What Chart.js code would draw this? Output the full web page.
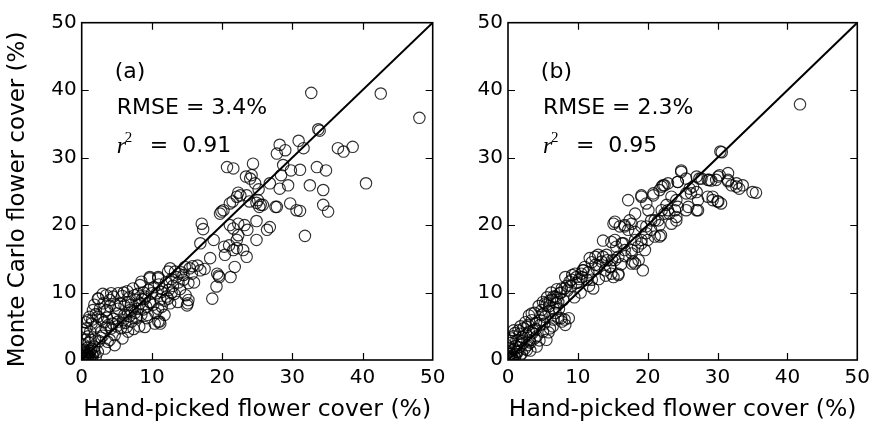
<!DOCTYPE html>
<html>
<head>
<meta charset="utf-8">
<script src="https://cdn.jsdelivr.net/npm/chart.js@4.4.1/dist/chart.umd.min.js"></script>
<style>
  html, body { margin: 0; padding: 0; background: #fff; }
  #wrap { position: relative; width: 876px; height: 427px; overflow: hidden; }
  canvas { position: absolute; top: 0; }
  #cA { left: 0; }
  #cB { left: 440px; }
</style>
</head>
<body>
<div id="wrap">
  <canvas id="cA" width="452" height="427"></canvas>
  <canvas id="cB" width="436" height="427"></canvas>
</div>
<script>
// Hand-picked cover (x) vs Monte Carlo estimate (y), in percent.
const panelA = [
  [32.7,39.6],[42.6,39.5],[48.1,35.9],[33.7,34.2],[33.9,34.0],[36.5,31.4],[37.3,30.9],[38.6,31.6],
  [40.5,26.2],[30.9,32.5],[31.6,31.4],[28.2,31.9],[27.8,30.6],[29.0,31.1],[29.8,28.1],[31.1,28.2],
  [28.7,28.9],[33.5,28.6],[34.8,28.1],[32.5,25.9],[34.4,25.2],[34.4,23.0],[35.1,22.0],[29.7,23.2],
  [31.1,22.1],[31.8,18.4],[28.2,25.4],[28.4,27.4],[29.4,25.9],[26.8,26.2],[27.8,22.7],[20.7,28.6],
  [21.6,28.4],[24.4,29.1],[23.4,27.2],[24.0,26.9],[24.2,27.4],[25.2,25.3],[22.3,24.8],[21.1,23.2],
  [21.5,23.5],[19.9,22.0],[20.2,22.2],[19.7,21.7],[24.9,23.3],[25.5,23.0],[23.9,23.5],[22.1,24.2],
  [22.6,24.4],[23.5,24.4],[25.1,23.7],[25.8,23.0],[25.3,22.7],[27.6,22.7],[30.6,22.2],[24.7,26.2],
  [17.1,20.2],[17.3,19.4],[18.8,17.8],[16.9,17.3],[21.1,20.0],[22.3,20.2],[21.6,19.5],[22.3,18.5],
  [22.1,17.8],[21.0,17.0],[22.1,16.6],[23.6,19.3],[24.9,20.6],[24.9,17.8],[26.4,19.3],[26.8,19.7],
  [23.2,20.0],[20.3,16.8],[20.4,15.6],[21.6,16.3],[23.0,16.3],[23.5,15.3],[18.3,15.1],[21.8,13.8],
  [21.2,12.3],[19.5,12.5],[19.6,12.3],[19.3,12.8],[19.2,10.9],[18.6,9.1],
  [12.6,13.6],[13.5,12.3],[14.5,11.9],[14.7,13.8],[15.2,11.4],[15.4,13.6],[15.7,12.8],[16.9,13.3],
  [15.2,8.9],[15.0,8.1],[9.7,12.3],[10.9,12.1],[8.3,11.1],[9.5,10.4],[10.7,9.9],[12.1,9.4],
  [12.6,8.4],[11.4,7.9],[11.2,5.4],[10.9,5.7],[9.0,4.9],[7.8,6.4],[6.9,7.4],[5.5,8.4],
  [4.0,8.9],[2.4,9.1],[3.1,8.4],[3.6,7.4],[5.0,6.9],[5.9,5.9],[6.4,4.9],[7.8,8.9],
  [9.0,9.4],[10.0,9.9],[8.3,8.4],[13.0,11.0],[14.0,10.5],[13.8,12.8],[12.0,11.5],[11.5,10.5],
  [13.2,9.8],[14.2,13.0],[16.0,11.5],[15.8,13.9],[12.8,12.0],[11.0,11.2],[10.3,10.8],[9.8,8.5],
  [8.8,7.5],[9.3,6.2],[10.5,7.0],[11.8,8.8],[12.4,10.4],[14.8,9.6],[16.5,14.0],[17.5,13.5],
  [13.3,13.1],
  [2.3,9.1],[3.5,9.6],[4.5,9.4],[4.2,9.9],[2.6,7.6],[1.6,7.4],[0.9,5.9],[0.7,4.7],
  [0.9,3.5],[0.4,2.2],[1.4,5.4],[2.3,6.4],[3.3,7.2],[5.2,7.6],[6.1,8.1],[6.6,8.6],
  [5.2,5.7],[4.2,4.7],[3.7,2.7],[4.7,3.7],[5.6,4.7],[7.1,5.7],[7.8,6.2],[8.5,6.7],
  [8.0,7.6],[9.0,9.1],[9.7,8.6],[8.5,11.6],[9.7,12.1],[10.9,12.3],[12.3,13.1],[11.4,10.1],
  [12.3,9.1],[13.7,8.6],[15.1,8.4],[10.9,7.6],[10.4,5.4],[11.1,5.7],[11.8,6.7],[9.4,6.7],
  [7.1,7.2],[6.1,6.7],[2.8,4.2],[1.9,3.2],[3.3,1.7],[2.3,1.2],[1.4,1.7],[0.9,0.7],
  [0.4,1.0],[4.7,2.2],[6.6,4.2],
  [1.0,2.6],[1.8,2.0],[2.5,2.8],[3.0,3.6],[3.8,5.2],[4.5,6.1],[2.0,5.0],[1.2,4.2],
  [0.5,3.0],[0.3,1.5],[1.5,0.8],[2.0,0.5],[0.8,1.8],[5.8,3.2],[6.2,5.5],[7.4,4.6],
  [8.2,5.0],[5.0,5.0],[3.2,5.6],[4.0,3.0],[0.6,5.6],[1.1,6.4],[1.8,8.2],[0.3,4.0],
  [2.8,6.0],[3.6,6.3],[4.8,8.1],[6.8,9.3],[7.5,9.6],[8.8,10.0],[6.0,10.0],[5.2,9.9],
  [7.0,8.2],[8.6,9.0],
  [3.0,9.8],[5.8,9.5],[6.5,10.2],[7.3,10.6],[8.0,9.8],[4.0,8.0],[2.0,6.8],[1.5,6.0],
  [3.4,4.8],[4.4,5.4],[6.8,6.5],[7.6,7.0],[9.2,7.9],[10.2,8.2],[11.2,9.0],[12.8,10.0],
  [13.8,11.5],[14.5,12.6],[2.7,3.3],[1.3,3.0],
  [0.2,0.2],[0.4,0.3],[0.6,0.5],[0.8,0.3],[1.0,0.6],[1.2,0.4],[0.3,0.7],[0.5,0.9],
  [0.7,1.2],[1.1,1.1],[1.4,0.2],[1.6,0.6],[0.1,0.5],[0.9,0.1],[0.2,1.2],[1.3,1.4],
  [1.8,1.2],[0.5,0.1],[1.1,0.2],[0.7,0.8]
];

const panelB = [
  [41.8,37.9],[30.4,30.9],[30.6,30.8],[35.0,24.9],[35.5,24.8],[33.1,25.4],[32.7,26.2],[32.0,25.9],
  [31.5,26.7],[33.6,25.9],[31.5,27.7],[30.1,27.2],[29.1,26.6],[28.6,26.7],[27.7,26.9],[27.0,27.2],
  [26.5,25.7],[27.0,24.9],[24.8,28.1],[25.5,26.9],[24.3,26.4],[22.9,26.2],[22.4,25.9],[22.0,25.7],
  [21.7,25.2],[28.6,24.2],[29.3,23.7],[30.1,23.5],[27.2,23.7],[25.8,22.7],[25.5,22.2],[27.0,22.2],
  [24.3,22.7],[19.1,24.4],[20.8,24.4],[17.2,23.7],[19.8,23.2],[18.2,21.7],[20.1,22.2],[20.5,20.7],
  [21.5,20.7],[22.4,21.7],[22.9,22.2],[23.9,22.2],[24.1,21.2],[23.4,20.2],[15.3,20.5],[16.0,19.8],
  [16.7,20.0],[17.2,19.3],[17.7,20.2],[18.2,19.0],[19.1,19.8],[19.8,18.8],[20.5,19.3],[21.0,18.3],
  [21.9,18.5],[13.6,17.7],[14.8,17.5],[15.5,16.8],[16.3,17.3],[16.7,16.3],[17.7,15.8],[18.6,16.8],
  [19.1,17.8],[19.6,16.3],[17.9,14.6],[18.2,14.3],[11.7,15.1],[12.5,15.3],[12.9,15.6],[13.4,14.6],
  [14.6,13.8],[14.8,12.8],[15.8,12.6],[15.3,14.8],[14.1,15.6],[12.5,14.1],[10.8,13.3],[10.6,12.3],
  [9.6,12.8],[9.1,11.9],[9.8,11.4],[11.3,11.9],[12.2,10.6],[12.0,11.9],[8.2,12.3],[7.7,10.6],
  [6.8,9.4],[7.2,8.6],[7.9,8.9],[6.5,7.7],[5.8,7.2],[5.3,8.4],[5.1,6.9],[4.6,5.9],
  [5.3,6.4],[7.2,6.2],[7.7,5.7],[8.2,5.2],[8.7,6.2],[3.4,6.9],[3.4,5.9],[2.9,5.2],
  [2.2,4.7],[1.5,4.4],[1.0,4.0],[0.6,3.2],[0.3,2.5],
  [32.7,25.7],[31.5,26.5],[30.3,27.4],[28.8,26.7],[29.8,26.7],[27.4,26.9],[24.8,27.9],[24.3,26.4],
  [26.0,25.4],[25.5,24.7],[26.2,24.7],[29.3,24.2],[30.0,23.5],[30.5,23.2],[27.2,22.2],[22.2,25.9],
  [20.8,24.7],[19.1,24.2],[17.4,20.7],[23.4,24.2],[22.7,23.0],[24.1,23.7],[22.0,22.2],[23.1,21.7],
  [24.1,20.7],[21.7,20.0],[21.0,20.7],[19.8,19.8],[21.7,18.3],[20.0,17.8],[19.1,17.3],[18.2,17.8],
  [16.5,17.3],[15.3,17.8],[15.1,20.2],[16.7,19.8],[17.7,16.3],[15.8,15.3],[14.9,14.8],[14.2,14.8],
  [13.6,15.3],[18.7,14.8],[17.7,14.3],[19.3,13.3],[15.8,12.8],[14.6,13.8],[13.9,13.3],[15.1,12.3],
  [0.8,4.4],[1.7,3.9],[1.2,2.9],[2.2,2.5],[3.1,2.9],[4.1,3.5],[5.0,4.2],[6.0,4.7],
  [5.5,3.0],[4.1,2.0],[2.7,1.5],[1.2,1.2],[0.5,1.0],[3.6,4.4],[4.6,5.2],[2.7,4.9],
  [4.8,6.7],[5.5,8.2],[6.5,9.4],[7.4,9.9],[8.1,10.6],[8.8,11.6],[9.8,12.3],[10.7,13.3],
  [6.9,8.4],[7.6,6.2],[8.1,6.0],[6.5,6.0],
  [5.9,8.0],[6.3,8.9],[7.0,9.2],[7.6,10.0],[8.5,10.3],[9.0,11.0],[10.0,11.5],[10.5,12.8],
  [11.5,13.0],[12.0,14.5],[13.0,14.0],[4.0,5.5],[4.8,7.4],[3.0,4.2],[2.0,2.8],[3.8,3.2],
  [6.8,7.0],[7.3,7.6],[5.2,5.4],
  [0.2,0.2],[0.4,0.4],[0.6,0.3],[0.8,0.7],[1.0,0.4],[1.2,0.9],[0.3,0.9],[0.5,1.4],
  [0.9,1.6],[1.4,1.2],[1.7,0.6],[2.0,1.0],[0.1,0.6],[0.7,0.1],[0.2,1.8],[1.1,2.1],
  [1.6,1.9],[2.4,1.7],[2.8,2.2],[3.2,2.6],[0.4,2.8],[0.8,3.5],[1.5,3.0],[2.0,3.4],
  [2.6,3.8],[3.5,4.0],[4.0,4.6],[1.8,5.0],[2.5,5.6],[3.0,6.6],[3.8,7.0],[4.4,8.0],
  [5.0,8.6],[5.6,9.3],[6.2,10.0],[6.0,8.8],[7.0,10.5],[8.4,11.0],[9.2,12.6],[10.2,12.0],
  [11.0,13.8],[3.2,1.4],[4.5,2.9],[5.8,4.1],[6.4,5.0],[9.5,9.3],[10.4,10.0],[11.6,11.0],
  [13.0,12.0],[12.7,13.5],[14.0,12.5],[16.2,14.2],[16.8,15.4]
];

const axisTicks = [0, 10, 20, 30, 40, 50];
const oneToOne = [0, 50];
const panelLetters = ['(a)', '(b)'];
const rmseValues = ['3.4%', '2.3%'];
const r2Values = ['0.91', '0.95'];
const yTitle = 'Monte Carlo flower cover (%)';
const xTitle = 'Hand-picked flower cover (%)';

const SANS = '"DejaVu Sans", "Noto Sans", sans-serif';

// Frame around the plot area plus inward-facing tick marks on all four sides.
const frameTicks = {
  id: 'frameTicks',
  afterDatasetsDraw(chart) {
    const { ctx, chartArea: a, scales: { x, y } } = chart;
    ctx.save();
    ctx.strokeStyle = '#000';
    ctx.lineWidth = 1.2;
    const len = 7;
    ctx.beginPath();
    x.ticks.forEach(t => {
      const px = Math.round(x.getPixelForValue(t.value)) + 0.5;
      if (px <= a.left + 1 || px >= a.right - 1) return;
      ctx.moveTo(px, a.bottom); ctx.lineTo(px, a.bottom - len);
      ctx.moveTo(px, a.top); ctx.lineTo(px, a.top + len);
    });
    y.ticks.forEach(t => {
      const py = Math.round(y.getPixelForValue(t.value)) + 0.5;
      if (py <= a.top + 1 || py >= a.bottom - 1) return;
      ctx.moveTo(a.left, py); ctx.lineTo(a.left + len, py);
      ctx.moveTo(a.right, py); ctx.lineTo(a.right - len, py);
    });
    ctx.stroke();
    ctx.lineWidth = 1.6;
    ctx.strokeRect(a.left, a.top, a.right - a.left, a.bottom - a.top);
    ctx.restore();
  }
};

// Panel letter, fit statistics and (optionally) the rotated y-axis title.
const statsText = {
  id: 'statsText',
  afterDraw(chart, args, opts) {
    const { ctx, scales: { x, y } } = chart;
    const x0 = x.getPixelForValue(5.0);
    ctx.save();
    ctx.fillStyle = '#000';
    ctx.textBaseline = 'middle';
    ctx.textAlign = 'left';
    ctx.font = '22px ' + SANS;
    ctx.fillText(opts.letter, x.getPixelForValue(4.7), y.getPixelForValue(42.7));
    ctx.fillText('RMSE = ' + opts.rmse, x0, y.getPixelForValue(37.3));
    const yr = y.getPixelForValue(31.7);
    ctx.font = 'italic 24px "Liberation Serif", "DejaVu Serif", serif';
    ctx.fillText('r', x0, yr + 1);
    ctx.font = '15px "Liberation Serif", "DejaVu Serif", serif';
    ctx.fillText('2', x0 + 8, yr - 8);
    ctx.font = '22px ' + SANS;
    ctx.fillText('=  ' + opts.r2, x0 + 33, yr);
    if (opts.yTitle) {
      ctx.translate(18, y.getPixelForValue(23.8));
      ctx.rotate(-Math.PI / 2);
      ctx.textAlign = 'center';
      ctx.font = '23px ' + SANS;
      ctx.fillText(opts.yTitle, 0, 0);
    }
    ctx.restore();
  }
};

function makePanel(canvasId, points, idx, yAxisWidth, rightPad, showYTitle) {
  const scatter = points.map(p => ({ x: p[0], y: p[1] }));
  const line = oneToOne.map(v => ({ x: v, y: v }));
  return new Chart(document.getElementById(canvasId), {
    type: 'scatter',
    data: {
      datasets: [
        {
          data: scatter,
          pointStyle: 'circle',
          pointRadius: 5.7,
          pointBorderWidth: 1.15,
          pointBackgroundColor: 'rgba(0,0,0,0)',
          pointBorderColor: 'rgba(0,0,0,0.8)',
          pointHoverRadius: 5.7
        },
        {
          type: 'line',
          data: line,
          borderColor: '#000',
          borderWidth: 2,
          pointRadius: 0,
          fill: false
        }
      ]
    },
    options: {
      responsive: false,
      animation: false,
      devicePixelRatio: 1,
      events: [],
      layout: { padding: { left: 0, top: 22.7, right: rightPad, bottom: 0 } },
      plugins: {
        legend: { display: false },
        tooltip: { enabled: false },
        statsText: {
          letter: panelLetters[idx], rmse: rmseValues[idx], r2: r2Values[idx],
          yTitle: showYTitle ? yTitle : null
        }
      },
      scales: {
        x: {
          type: 'linear',
          min: 0, max: 50,
          afterBuildTicks: s => { s.ticks = axisTicks.map(v => ({ value: v })); },
          afterFit: s => { s.height = 67; },
          grid: { display: false, drawTicks: false },
          border: { display: false },
          ticks: { color: '#000', padding: 6, font: { family: SANS, size: 20 }, maxRotation: 0 },
          title: {
            display: true,
            text: xTitle,
            color: '#000',
            font: { family: SANS, size: 23.5 },
            padding: { top: 0, bottom: 3 }
          }
        },
        y: {
          type: 'linear',
          min: 0, max: 50,
          afterBuildTicks: s => { s.ticks = axisTicks.map(v => ({ value: v })); },
          afterFit: s => { s.width = yAxisWidth; },
          grid: { display: false, drawTicks: false },
          border: { display: false },
          ticks: { color: '#000', padding: 5, font: { family: SANS, size: 20 } },
          title: { display: false }
        }
      }
    },
    plugins: [frameTicks, statsText]
  });
}

makePanel('cA', panelA, 0, 81.7, 452 - 432.7, true);
makePanel('cB', panelB, 1, 508 - 440, 436 - (858.3 - 440), false);
</script>
</body>
</html>
